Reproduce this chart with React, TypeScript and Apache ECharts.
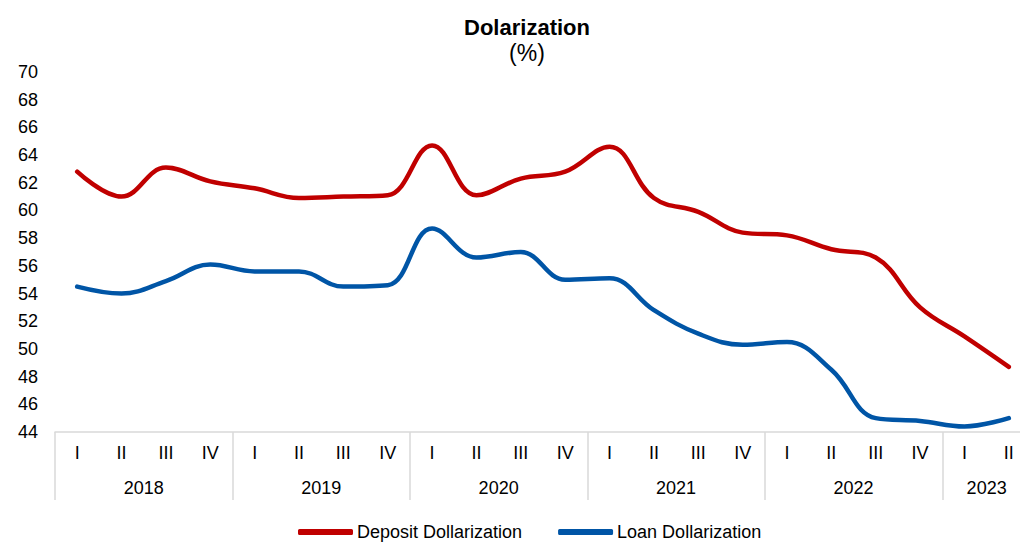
import React, { useEffect, useRef } from "react";
import * as echarts from "echarts";

const quarters = [
  "I", "II", "III", "IV",
  "I", "II", "III", "IV",
  "I", "II", "III", "IV",
  "I", "II", "III", "IV",
  "I", "II", "III", "IV",
  "I", "II",
];
const years = ["2018", "2019", "2020", "2021", "2022", "2023"];
// position (in quarter units from the left edge) of each year label
const yearCenters = [2, 6, 10, 14, 18, 21];

const depositDollarization = [
  62.8, 61.0, 63.1, 62.1,
  61.6, 60.9, 61.0, 61.1,
  64.7, 61.1, 62.3, 62.8,
  64.6, 60.9, 59.9, 58.4,
  58.2, 57.2, 56.6, 53.0,
  50.9, 48.7,
];
const loanDollarization = [
  54.5, 54.0, 54.9, 56.1,
  55.6, 55.6, 54.5, 54.6,
  58.7, 56.6, 57.0, 55.0,
  55.1, 52.8, 51.1, 50.3,
  50.5, 48.5, 45.0, 44.8,
  44.4, 45.0,
];

const FONT = "'Liberation Sans', Arial, sans-serif";
const RED = "#C00000";
const BLUE = "#0055A6";
const GRID_GREY = "#D9D9D9";

export default function App() {
  const ref = useRef<HTMLDivElement>(null);

  useEffect(() => {
    if (!ref.current) return;
    const chart = echarts.init(ref.current, null, { renderer: "svg" });
    chart.setOption({
      animation: false,
      backgroundColor: "#ffffff",
      textStyle: { fontFamily: FONT },
      title: {
        text: "Dolarization",
        subtext: "(%)",
        left: 522,
        top: 11,
        textAlign: "center",
        itemGap: 3,
        textStyle: { fontFamily: FONT, fontSize: 22, fontWeight: "bold", color: "#000" },
        subtextStyle: { fontFamily: FONT, fontSize: 23, color: "#000" },
      },
      legend: {
        top: 518,
        left: 293,
        itemWidth: 55,
        itemHeight: 6,
        itemGap: 36,
        icon: "roundRect",
        textStyle: { fontFamily: FONT, fontSize: 18, color: "#000", padding: [0, 0, 0, -1] },
        data: ["Deposit Dollarization", "Loan Dollarization"],
      },
      grid: { left: 55, right: 0, top: 72, bottom: 111, containLabel: false },
      xAxis: [
        {
          type: "category",
          data: quarters,
          boundaryGap: true,
          axisLine: { show: true, lineStyle: { color: GRID_GREY, width: 1.5 } },
          axisTick: {
            show: true,
            interval: (i: number) => i % 4 === 0,
            length: 68,
            lineStyle: { color: GRID_GREY, width: 1.5 },
          },
          axisLabel: {
            interval: 0,
            margin: 12,
            fontFamily: FONT,
            fontSize: 18,
            color: "#000",
          },
          splitLine: { show: false },
        },
        {
          type: "value",
          position: "bottom",
          min: 0,
          max: 22,
          interval: 1,
          axisLine: { show: false },
          axisTick: { show: false },
          splitLine: { show: false },
          axisLabel: {
            margin: 47,
            fontFamily: FONT,
            fontSize: 18,
            color: "#000",
            showMinLabel: true,
            showMaxLabel: true,
            formatter: (v: number) => {
              const k = yearCenters.indexOf(v);
              return k >= 0 ? years[k] : "";
            },
          },
        },
      ],
      yAxis: {
        type: "value",
        min: 44,
        max: 70,
        interval: 2,
        axisLine: { show: false },
        axisTick: { show: false },
        splitLine: { show: false },
        axisLabel: { margin: 17, fontFamily: FONT, fontSize: 18, color: "#000" },
      },
      series: [
        {
          name: "Deposit Dollarization",
          type: "line",
          xAxisIndex: 0,
          data: depositDollarization,
          smooth: 0.4,
          symbol: "none",
          lineStyle: { color: RED, width: 4.5, cap: "round" },
          itemStyle: { color: RED },
        },
        {
          name: "Loan Dollarization",
          type: "line",
          xAxisIndex: 0,
          data: loanDollarization,
          smooth: 0.4,
          symbol: "none",
          lineStyle: { color: BLUE, width: 4.5, cap: "round" },
          itemStyle: { color: BLUE },
        },
      ],
    });
    return () => chart.dispose();
  }, []);

  return (
    <div
      style={{
        position: "fixed",
        left: 0,
        top: 0,
        width: 1020,
        height: 543,
        overflow: "hidden",
        background: "#fff",
      }}
    >
      <div ref={ref} style={{ width: 1034, height: 543 }} />
    </div>
  );
}
